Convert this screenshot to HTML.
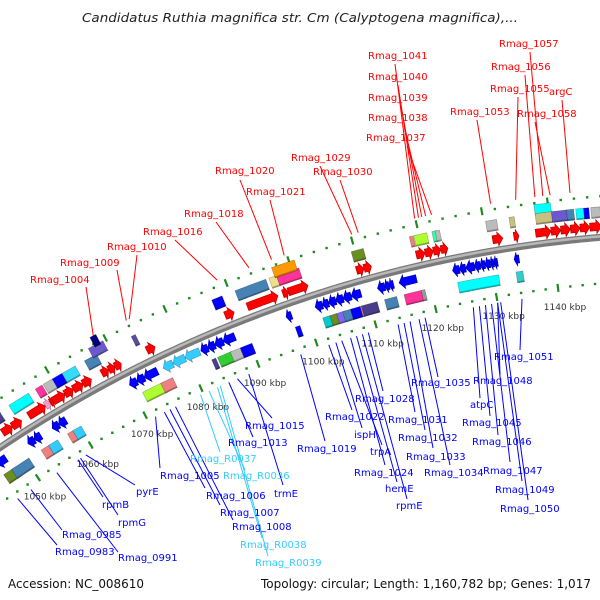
<!DOCTYPE html>
<html><head><meta charset="utf-8">
<style>
html,body{margin:0;padding:0;background:#fff;}
svg{display:block;font-family:"DejaVu Sans","Liberation Sans",sans-serif;}
</style></head>
<body>
<svg id="chart" width="600" height="600" viewBox="0 0 600 600" xmlns="http://www.w3.org/2000/svg">
<text x="300" y="22" text-anchor="middle" font-size="12.5" font-style="italic" fill="#222" textLength="436" lengthAdjust="spacingAndGlyphs">Candidatus Ruthia magnifica str. Cm (Calyptogena magnifica),...</text>
<text x="8" y="588" font-size="12" fill="#111" textLength="136" lengthAdjust="spacingAndGlyphs">Accession: NC_008610</text>
<text x="591" y="588" text-anchor="end" font-size="12" fill="#111" textLength="330" lengthAdjust="spacingAndGlyphs">Topology: circular; Length: 1,160,782 bp; Genes: 1,017</text>
<g id="layers"></g>
</svg>
<script>
// ---- data (kbp) ----
var tickKbp = [1050,1060,1070,1080,1090,1100,1110,1120,1130,1140];
var tickLabels = ["1050 kbp","1060 kbp","1070 kbp","1080 kbp","1090 kbp","1100 kbp","1110 kbp","1120 kbp","1130 kbp","1140 kbp"];
// forward strand arrows (red)
var fwdStart = [1049.2,1051,1054,1057,1057.9,1058.4,1060.5,1062,1063.7,1067,1068.2,1069.3,1074.8,1088,1091.7,1097.5,1098.4,1109.4,1110.6,1118.9,1120.3,1121.6,1122.8,1130.9,1134.2,1137.6,1140,1141.5,1143,1144.5,1146];
var fwdEnd   = [1051,1052.7,1057,1057.9,1058.4,1060.5,1062,1063.7,1065.2,1068.2,1069.3,1070.4,1076.2,1089.5,1096.7,1098.4,1101.6,1110.6,1111.8,1120.3,1121.6,1122.8,1123.9,1132.5,1135,1140,1141.5,1143,1144.5,1146,1147.8];
var fwdColor = ["r","r","r","#ff99cc","r","r","r","r","r","r","r","r","r","r","r","r","r","r","r","r","r","r","r","r","r","r","r","r","r","r","r"];
// reverse strand arrows (blue)
var revStart = [1045.7,1051.6,1052.8,1056.1,1057.3,1070,1071.3,1072.6,1075.9,1077.6,1079.7,1082.4,1083.6,1084.8,1086.2,1096.8,1101.6,1102.8,1103.8,1105,1106.2,1107.5,1111.8,1113,1113.7,1115.3,1123.9,1125,1126,1127.4,1128.3,1129.1,1129.9,1130.5,1133.7];
var revEnd   = [1047.5,1052.8,1054,1057.3,1058.6,1071.3,1072.6,1074.9,1077.6,1079.7,1082.2,1083.6,1084.8,1086.2,1088.2,1097.7,1102.8,1103.8,1105,1106.2,1107.5,1109.1,1113,1113.7,1114.4,1118.1,1125,1126,1127.4,1128.3,1129.1,1129.9,1130.5,1131.1,1134.5];
var revColor = ["b","b","b","b","b","b","b","b","#33ccff","#33ccff","#33ccff","b","b","b","b","b","b","b","b","b","b","b","b","b","b","b","b","b","b","b","b","b","b","b","b"];
// outer (forward) category boxes
var oboxStart = [1049.2,1049.2,1052.3,1057,1058.4,1060,1061.7,1065.6,1067,1068,1073.6,1087,1090.8,1096.3,1097.5,1097.2,1109.4,1118.5,1119.2,1122,1122.5,1130.3,1133.9,1137.9,1137.9,1140.4,1142.7,1144.1,1145.3,1146.4];
var oboxEnd   = [1050.6,1050.6,1055.8,1058.2,1060.1,1061.7,1064,1067.7,1069.5,1069,1074.3,1088.7,1095.8,1097.5,1101.1,1100.8,1111.3,1119.1,1121.2,1122.8,1123.2,1132,1134.7,1140.4,1140.4,1142.7,1143.8,1145.3,1146.1,1147.8];
var oboxRow   = [0,1,0,0,0,0,0,0,1,2,0,0,0,0,0,1,0,0,0,0,0,0,0,1,0,0,0,0,0,0];
var oboxColor = ["#4b3f8f","#5a4fa8","#00ffff","#ff3399","#bbbbbb","#0000ff","#33ddff","#4682b4","#6a5acd","#000080","#5b4f9c","#0000ff","#4682b4","#eee08a","#ff3399","#ff9900","#6b8e23","#f08080","#adff2f","#33ffaa","#bbbbbb","#bbbbbb","#c8c080","#00ffff","#c8c080","#6a5acd","#4682b4","#00ffff","#0000ff","#bbbbbb"];
// inner (reverse) category boxes
var iboxStart = [1045.7,1047.2,1052.8,1054.2,1057.7,1058.7,1071.3,1074.5,1083.4,1084.4,1086.6,1088.3,1097.6,1102.2,1103.4,1104.5,1105.5,1106.8,1108.4,1108.6,1112.4,1115.6,1118.4,1124.3,1133.7];
var iboxEnd   = [1047.8,1050.5,1054.2,1055.9,1058.7,1060.2,1075,1076.6,1084.1,1086.9,1088.3,1090.3,1098.4,1103.4,1104.5,1106,1106.8,1108.4,1108.7,1111.2,1114.4,1118.4,1119,1130.9,1134.8];
var iboxColor = ["#6b8e23","#4682b4","#f08080","#33ccff","#f08080","#33ccff","#adff2f","#f08080","#4b3f8f","#33cc33","#bbbbbb","#0000ff","#0000ff","#00cccc","#6b8e23","#7b68ee","#4682b4","#0000ff","#f08080","#483d8b","#4682b4","#ff3399","#999999","#00ffff","#33cccc"];
// gene labels: name, kbp, x, y, line-anchor x, y
var outerLabels = [
 ["Rmag_1004",1068.5,30,283,86,287],["Rmag_1009",1074,60,266,117,270],["Rmag_1010",1074.5,107,250,137,255],
 ["Rmag_1016",1088.9,143,235,175,240],["Rmag_1018",1094,184,217,216,222],["Rmag_1020",1097.6,215,174,240,180],
 ["Rmag_1021",1099.6,246,195,270,200],["Rmag_1029",1110.2,291,161,320,166],["Rmag_1030",1111.2,313,175,340,180],
 ["Rmag_1041",1119.9,368,59,395,64],["Rmag_1040",1120.5,368,80,398,85],["Rmag_1039",1121,368,101,401,106],
 ["Rmag_1038",1121.6,368,121,404,126],["Rmag_1037",1122.5,366,141,407,146],["Rmag_1053",1131.5,450,115,477,120],
 ["Rmag_1055",1135.3,490,92,518,97],["Rmag_1057",1139.4,499,47,530,52],["Rmag_1056",1138.2,491,70,525,75],
 ["Rmag_1058",1140.5,517,117,535,122],["argC",1143.5,549,95,562,100]];
var innerLabels = [
 ["Rmag_0983",1045.4,55,555,57,545,"#0000ff"],["Rmag_0985",1048,62,538,62,530,"#0000ff"],["Rmag_0991",1053,118,561,118,552,"#0000ff"],
 ["rpmG",1057.5,118,526,118,515,"#0000ff"],["rpmB",1057,102,508,103,497,"#0000ff"],["pyrE",1058.5,136,495,135,485,"#0000ff"],
 ["Rmag_1005",1071.4,160,479,160,468,"#0000ff"],["Rmag_1006",1073,206,499,205,488,"#0000ff"],["Rmag_1007",1074,220,516,220,505,"#0000ff"],
 ["Rmag_1008",1075,232,530,233,520,"#0000ff"],["Rmag_R0037",1079.5,190,462,220,452,"#33ccff"],["Rmag_R0036",1081,223,479,245,470,"#33ccff"],
 ["Rmag_R0038",1082.5,240,548,262,538,"#33ccff"],["Rmag_R0039",1083,255,566,268,556,"#33ccff"],["Rmag_1013",1084.5,228,446,253,437,"#0000ff"],
 ["Rmag_1015",1086,245,429,272,418,"#0000ff"],["trmE",1088,274,497,283,485,"#0000ff"],["Rmag_1019",1097,297,452,325,441,"#0000ff"],
 ["Rmag_1022",1101.8,325,420,352,410,"#0000ff"],["ispH",1103,354,438,362,428,"#0000ff"],["trpA",1104,370,455,382,445,"#0000ff"],
 ["Rmag_1024",1105.5,354,476,385,465,"#0000ff"],["hemE",1106.5,385,492,397,482,"#0000ff"],["rpmE",1107.5,396,509,407,499,"#0000ff"],
 ["Rmag_1028",1108.5,355,402,383,391,"#0000ff"],["Rmag_1031",1113.5,388,423,415,412,"#0000ff"],["Rmag_1032",1114.5,398,441,425,430,"#0000ff"],
 ["Rmag_1033",1115.5,406,460,433,448,"#0000ff"],["Rmag_1034",1117,424,476,450,465,"#0000ff"],["Rmag_1035",1118,411,386,438,377,"#0000ff"],
 ["atpC",1126,470,408,480,398,"#0000ff"],["Rmag_1045",1127,462,426,490,416,"#0000ff"],["Rmag_1046",1128,472,445,498,435,"#0000ff"],
 ["Rmag_1047",1129,483,474,510,462,"#0000ff"],["Rmag_1049",1130,495,493,522,481,"#0000ff"],["Rmag_1050",1130.5,500,512,528,500,"#0000ff"],
 ["Rmag_1048",1130,473,384,500,375,"#0000ff"],["Rmag_1051",1134,494,360,520,350,"#0000ff"]];

// ---- geometry ----
var CX=705, CY=1498;
function ang(k){ return -0.1718 + (k-1130)*0.00509; }
function pt(k,r){ var t=ang(k); return [CX + r*Math.sin(t), CY - r*Math.cos(t)]; }
var NS="http://www.w3.org/2000/svg";
var root=document.getElementById('layers');
function mk(tag,attrs,parent){ var e=document.createElementNS(NS,tag); for(var a in attrs) e.setAttribute(a,attrs[a]); (parent||root).appendChild(e); return e; }
function arcPts(k1,k2,r){ var out=[]; var n=Math.max(2,Math.ceil(Math.abs(k2-k1)*2)); for(var i=0;i<=n;i++){ out.push(pt(k1+(k2-k1)*i/n,r)); } return out; }
function ps(a){ return a.map(function(p){return p[0].toFixed(2)+','+p[1].toFixed(2);}).join(' '); }
function shade(c){ return c==="#ff0000"?"#b00000":(c==="#0000ff"?"#00009a":"rgba(0,0,0,0.35)"); }

// backbone
var bb = mk('polyline',{points:ps(arcPts(1040,1156,1265)),fill:'none',stroke:'#7a7a7a','stroke-width':7});


var bb2 = mk('polyline',{points:ps(arcPts(1040,1156,1266)),fill:'none',stroke:'#b8b8b8','stroke-width':2.5});



// dotted scale lines
[1306,1219].forEach(function(R,ri){
  var g=mk('g',{});
  
  
  for(var k=1040;k<=1156;k+=2){
    if(k%10===0) continue;
    var p=pt(k,R);
    var d=mk('rect',{x:p[0]-1.2,y:p[1]-1.2,width:2.4,height:2.4,fill:'#1f8a1f'},g);
    
    
  }
  tickKbp.concat([1040,1150]).forEach(function(k){
    var a=pt(k,R-4), b=pt(k,R+4);
    var t=mk('line',{x1:a[0],y1:a[1],x2:b[0],y2:b[1],stroke:'#1f8a1f','stroke-width':2.2},g);
    
    
  });
});
// tick labels
tickKbp.forEach(function(k,i){
  var p=pt(k,1219);
  var t=mk('text',{x:p[0]+7,y:p[1]+22,'text-anchor':'middle','font-size':9,fill:'#333'});
  t.textContent=tickLabels[i];
  
  
});

// label lines
outerLabels.forEach(function(L){
  var p=pt(L[1],1312);
  var l=mk('line',{x1:p[0],y1:p[1],x2:L[4],y2:L[5],stroke:'#ff0000','stroke-width':1});
  
  
});
innerLabels.forEach(function(L){
  var p=pt(L[1],1213);
  var l=mk('line',{x1:p[0],y1:p[1],x2:L[4],y2:L[5],stroke:L[6],'stroke-width':1});
  
  
});

// arrows
function arrow(s,e,r,color,dir,name){
  var len=e-s, head=Math.min(0.8,len*0.55);
  var hb=4, hh=7, pts;
  if(dir>0){
    var m=e-head;
    pts=arcPts(s,m,r+hb).concat([pt(m,r+hh),pt(e,r),pt(m,r-hh)]).concat(arcPts(m,s,r-hb));
  } else {
    var m2=s+head;
    pts=arcPts(e,m2,r+hb).concat([pt(m2,r+hh),pt(s,r),pt(m2,r-hh)]).concat(arcPts(m2,e,r-hb));
  }
  var el=mk('polygon',{points:ps(pts),fill:color,stroke:shade(color),'stroke-width':0.6});
  
  
}
function box(s,e,r,h,color,name){
  var pts=arcPts(s,e,r+h/2).concat(arcPts(e,s,r-h/2));
  var el=mk('polygon',{points:ps(pts),fill:color,stroke:'rgba(0,0,0,0.3)','stroke-width':0.6});
  
  
  var sh=arcPts(s,e,r-h/2+1.5).concat(arcPts(e,s,r-h/2));
  var se=mk('polygon',{points:ps(sh),fill:'rgba(0,0,0,0.28)'});
  
  
}
fwdStart.forEach(function(s,i){ var c=fwdColor[i]==="r"?"#ff0000":fwdColor[i]; arrow(s,fwdEnd[i],1276,c,1,'forward-gene'); });
revStart.forEach(function(s,i){ var c=revColor[i]==="b"?"#0000ff":revColor[i]; arrow(s,revEnd[i],1253,c,-1,'reverse-gene'); });
oboxStart.forEach(function(s,i){ box(s,oboxEnd[i],1290+oboxRow[i]*9,11,oboxColor[i],'forward-category-box'); });
iboxStart.forEach(function(s,i){ box(s,iboxEnd[i],1235,11,iboxColor[i],'reverse-category-box'); });

// label texts
outerLabels.forEach(function(L){
  var t=mk('text',{x:L[2],y:L[3],'font-size':10,fill:'#ff0000'});
  t.textContent=L[0];
  
  
});
innerLabels.forEach(function(L){
  var t=mk('text',{x:L[2],y:L[3],'font-size':10,fill:L[6]});
  t.textContent=L[0];
  
  
});
</script>
</body></html>
